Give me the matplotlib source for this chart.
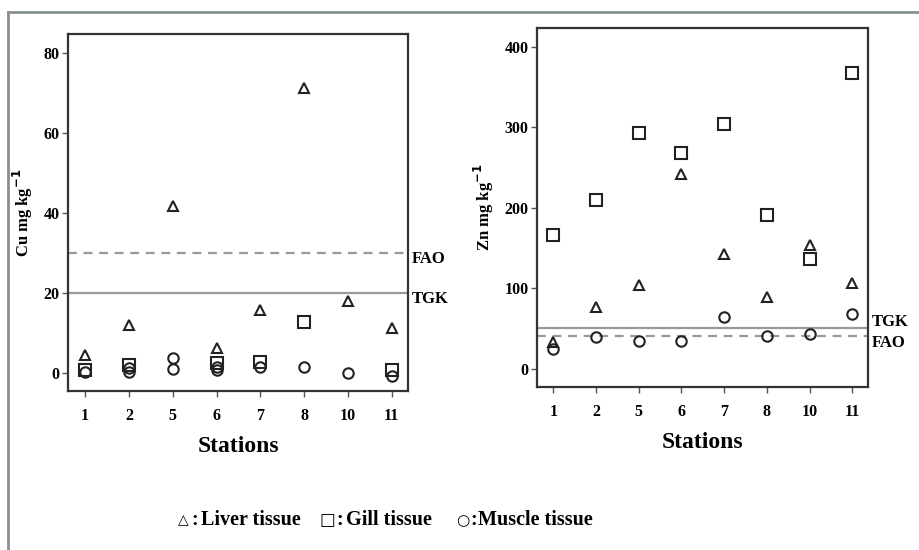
import numpy as np
import matplotlib
matplotlib.use("Agg")
import matplotlib.pyplot as plt
from matplotlib.lines import Line2D

plt.rcParams['font.family'] = ['Liberation Serif', 'DejaVu Serif']
plt.rcParams['font.weight'] = 'bold'

stations = ['1', '2', '5', '6', '7', '8', '10', '11']

# Cu (mg kg-1)
cu_liver = [4.5, 12.0, 41.8, 6.2, 15.8, 71.4, 18.0, 11.2]
cu_gill = [0.8, 2.0, np.nan, 2.4, 2.8, 12.8, np.nan, 0.8]
cu_muscle = [[0.2], [0.3, 1.2], [3.8, 0.9], [0.7, 1.6], [1.6], [1.6], [0.1], [-0.8]]

# Zn (mg kg-1), right panel
zn_liver = [33, 77, 104, 242, 142, 89, 153, 106]
zn_gill = [166, 209, 293, 268, 304, 191, 136, 367]
zn_muscle = [[25], [39], [34], [34], [64], [41], [43], [68]]

cu_limits = {'FAO': 30, 'TGK': 20}
zn_limits = {'TGK': 50, 'FAO': 40}

fig = plt.figure(figsize=(9.19, 5.5), dpi=100)

ax1 = fig.add_axes([0.074, 0.289, 0.370, 0.649])
ax2 = fig.add_axes([0.584, 0.296, 0.3605, 0.653])

x = np.arange(len(stations))

def draw(ax, liver, gill, muscle, limits, ylim, yticks, ylabel):
    mk = dict(linestyle='none', markerfacecolor='none', markeredgecolor='#222222', markeredgewidth=1.5)
    for i, vals in enumerate(muscle):
        ax.plot([x[i]] * len(vals), vals, marker='o', markersize=7.5, **mk)
    ax.plot(x, gill, marker='s', markersize=8, **mk)
    ax.plot(x, liver, marker='^', markersize=6.5, **mk)
    for name, v in limits.items():
        if name == 'FAO':
            ax.axhline(v, color='#999999', linestyle='--', linewidth=1.6, dashes=(4, 3), zorder=0)
        else:
            ax.axhline(v, color='#999999', linestyle='-', linewidth=1.6, zorder=0)
    ax.set_xlim(-0.39, 7.37)
    ax.set_ylim(*ylim)
    ax.set_yticks(yticks)
    ax.set_xticks(x)
    ax.set_xticklabels(stations)
    ax.tick_params(direction='out', length=4, width=1, color='#555555', labelsize=11.5, pad=8)
    for lab in ax.get_xticklabels() + ax.get_yticklabels():
        lab.set_fontweight('bold')
    ax.tick_params(axis='y', pad=2)
    for s in ax.spines.values():
        s.set_color('#333333')
        s.set_linewidth(1.6)
    ax.set_ylabel(ylabel, fontsize=12, fontweight='bold', labelpad=6)
    ax.set_xlabel('Stations', fontsize=17, fontweight='bold', labelpad=9)

draw(ax1, cu_liver, cu_gill, cu_muscle, cu_limits, (-4.5, 84.8), [0, 20, 40, 60, 80], 'Cu mg kg$^{\\mathbf{-1}}$')
draw(ax2, zn_liver, zn_gill, zn_muscle, zn_limits, (-23, 423), [0, 100, 200, 300, 400], 'Zn mg kg$^{\\mathbf{-1}}$')

# threshold labels outside the right spine
ax1.text(1.012, 28.5, 'FAO', transform=ax1.get_yaxis_transform(), fontsize=12, va='center', ha='left')
ax1.text(1.012, 18.5, 'TGK', transform=ax1.get_yaxis_transform(), fontsize=12, va='center', ha='left')
ax2.text(1.012, 58, 'TGK', transform=ax2.get_yaxis_transform(), fontsize=12, va='center', ha='left')
ax2.text(1.012, 32, 'FAO', transform=ax2.get_yaxis_transform(), fontsize=12, va='center', ha='left')

# legend line at the bottom
fig.text(0.199, 0.054, '\u25b3', fontsize=10, family='DejaVu Sans', va='center', ha='center')
fig.text(0.208, 0.054, ':', fontsize=14.5, va='center', ha='left')
fig.text(0.219, 0.054, 'Liver tissue', fontsize=14.5, va='center', ha='left')
fig.text(0.356, 0.054, '\u25a1', fontsize=12, family='DejaVu Sans', va='center', ha='center')
fig.text(0.366, 0.054, ':', fontsize=14.5, va='center', ha='left')
fig.text(0.377, 0.054, 'Gill tissue', fontsize=14.5, va='center', ha='left')
fig.text(0.504, 0.054, '\u25cb', fontsize=11, family='DejaVu Sans', va='center', ha='center')
fig.text(0.512, 0.054, ':', fontsize=14.5, va='center', ha='left')
fig.text(0.520, 0.054, 'Muscle tissue', fontsize=14.5, va='center', ha='left')

# outer frame (top and left edges only)
fig.add_artist(Line2D([0.009, 1.0], [0.978, 0.978], color='#86908f', linewidth=2, transform=fig.transFigure))
fig.add_artist(Line2D([0.009, 0.009], [0.0, 0.978], color='#86908f', linewidth=2, transform=fig.transFigure))

fig.savefig('out.png', dpi=100)
